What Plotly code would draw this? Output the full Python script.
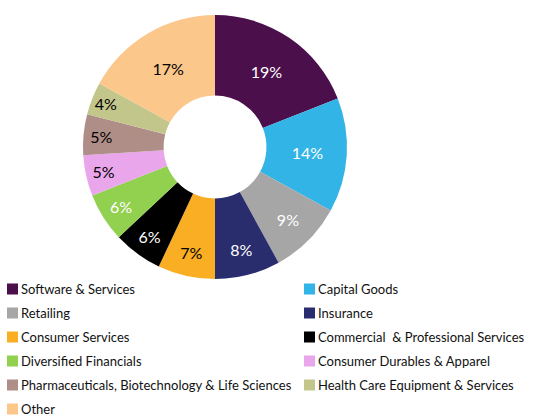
import plotly.graph_objects as go

categories = [
    "Software & Services", "Capital Goods", "Retailing", "Insurance",
    "Consumer Services", "Commercial  & Professional Services",
    "Diversified Financials", "Consumer Durables & Apparel",
    "Pharmaceuticals, Biotechnology & Life Sciences",
    "Health Care Equipment & Services", "Other",
]
values = [19, 14, 9, 8, 7, 6, 6, 5, 5, 4, 17]
colors = ["#4B0F4B", "#32B4E6", "#A6A6A6", "#292C6D", "#F9AE24", "#000000",
          "#92D050", "#EAA6EA", "#AE8E86", "#C3C68A", "#FBC78A"]
text_colors = ["white", "white", "white", "white", "black", "white",
               "white", "black", "black", "black", "black"]

W, H = 552, 416
FONT = "Lato, 'Open Sans', sans-serif"

fig = go.Figure(go.Pie(
    labels=categories, values=values, sort=False, direction="clockwise",
    rotation=0, hole=0.39,
    marker=dict(colors=colors, line=dict(width=0)),
    texttemplate="%{value}%", textposition="inside",
    insidetextorientation="horizontal",
    textfont=dict(family=FONT, size=16, color=text_colors),
    domain=dict(x=[83 / W, 347 / W], y=[1 - 279 / H, 1 - 15 / H]),
    showlegend=False, hoverinfo="label+percent",
))

shapes, annotations = [], []
col_x = [7, 304]
row_y0, row_dy = 289, 24
for i, (cat, col) in enumerate(zip(categories, colors)):
    c, r = i % 2, i // 2
    x0 = col_x[c]
    yc = row_y0 + r * row_dy
    shapes.append(dict(type="rect", xref="paper", yref="paper",
                       x0=x0 / W, x1=(x0 + 11) / W,
                       y0=1 - (yc + 5.5) / H, y1=1 - (yc - 5.5) / H,
                       fillcolor=col, line=dict(width=0)))
    annotations.append(dict(text=cat, xref="paper", yref="paper",
                            x=(x0 + 12) / W, y=1 - yc / H,
                            xanchor="left", yanchor="middle", showarrow=False,
                            font=dict(family=FONT, size=13, color="#111111")))

fig.update_layout(
    width=W, height=H, margin=dict(l=0, r=0, t=0, b=0),
    paper_bgcolor="white", plot_bgcolor="white",
    shapes=shapes, annotations=annotations,
)
fig.write_html("out.html", config={"displayModeBar": False},
               post_script="document.body.style.margin='0';document.body.style.overflow='hidden';")
